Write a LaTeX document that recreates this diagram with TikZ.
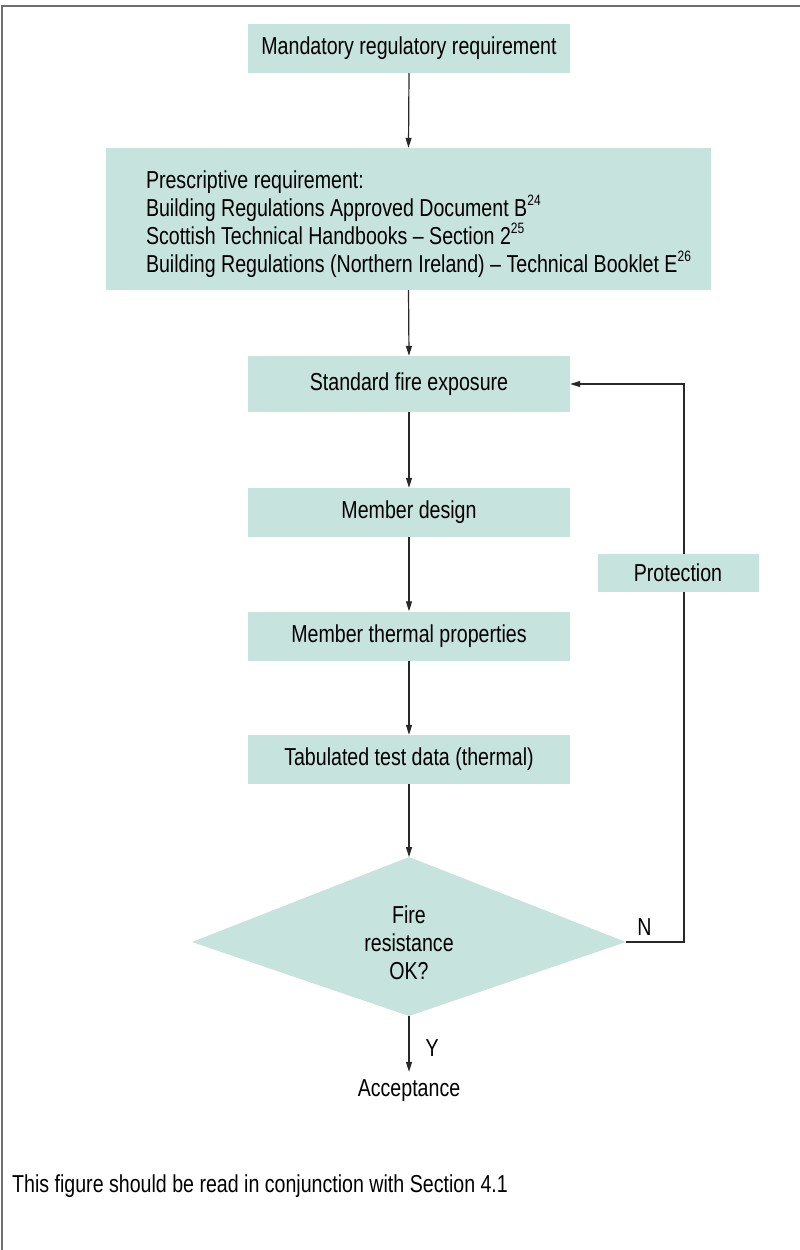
\documentclass[tikz,border=0pt]{standalone}
\usepackage{fontspec}
\setmainfont{Liberation Sans}[FakeStretch=0.8]
\usetikzlibrary{arrows.meta}
\definecolor{boxfill}{RGB}{198,227,221}
\definecolor{linecol}{RGB}{40,40,40}
\definecolor{framecol}{RGB}{110,110,110}
\tikzset{
  stepbox/.style={fill=boxfill, draw=none, inner sep=0pt, minimum width=322pt, minimum height=49pt, align=center},
  plain/.style={inner sep=0pt},
  flow/.style={draw=linecol, line width=1.2pt, -{Triangle[length=10pt,width=6pt]}}
}
\newcommand{\refmark}[1]{\raisebox{0.45em}{\fontsize{15}{15}\selectfont #1}}
\begin{document}
\begin{tikzpicture}[x=1pt,y=-1pt,font=\fontsize{24.5}{28}\selectfont]
\useasboundingbox (0,0) rectangle (800,1250);
% frame
\draw[framecol, line width=1.5pt] (2,1252) -- (2,6) -- (802,6);

\node[stepbox] (req) at (409,48.5) {Mandatory regulatory requirement};
\node[stepbox, minimum width=605pt, minimum height=142pt, text width=525pt, inner xsep=40pt, align=flush left] (pres) at (408.5,219)
  {\rule{0pt}{28pt}Prescriptive requirement:\\
   Building Regulations Approved Document B\refmark{24}\\
   Scottish Technical Handbooks -- Section 2\refmark{25}\\
   \makebox[\linewidth][l]{Building Regulations (Northern Ireland) -- Technical Booklet E\refmark{26}}};
\node[stepbox, minimum height=56pt] (std) at (409,384) {Standard fire exposure};
\node[stepbox] (mem) at (409,512.5) {Member design};
\node[stepbox] (therm) at (409,636) {Member thermal properties};
\node[stepbox] (tab) at (409,759.5) {Tabulated test data (thermal)};

% decision diamond
\coordinate (okN) at (409,857);
\coordinate (okE) at (626,942);
\coordinate (okS) at (409,1016);
\coordinate (okW) at (192,942);
\fill[boxfill] (okN) -- (okE) -- (okS) -- (okW) -- cycle;
\node[plain, align=center] (ok) at (409,943) {Fire\\resistance\\OK?};

\node[plain] (acc) at (409,1091) {Acceptance};
\node[plain, anchor=west] (note) at (12,1186) {This figure should be read in conjunction with Section 4.1};

\draw[flow] (req.south) -- (pres.north);
\draw[flow] (pres.south) -- (std.north);
\draw[flow] (std.south) -- (mem.north);
\draw[flow] (mem.south) -- (therm.north);
\draw[flow] (therm.south) -- (tab.north);
\draw[flow] (tab.south) -- (okN);
\draw[flow, shorten >=8pt] (okS) -- (acc.north) node[pos=0.5, right=16pt, plain] (yes) {Y};
\coordinate (turn) at (684,942);
\draw[flow] (okE) -- node[pos=0.32, above=6pt, plain] (no) {N} (turn) |- (std.east);
% protection sits on the feedback line
\node[stepbox, minimum width=161pt, minimum height=38pt] (prot) at (678,573) {Protection};
\end{tikzpicture}
\end{document}
